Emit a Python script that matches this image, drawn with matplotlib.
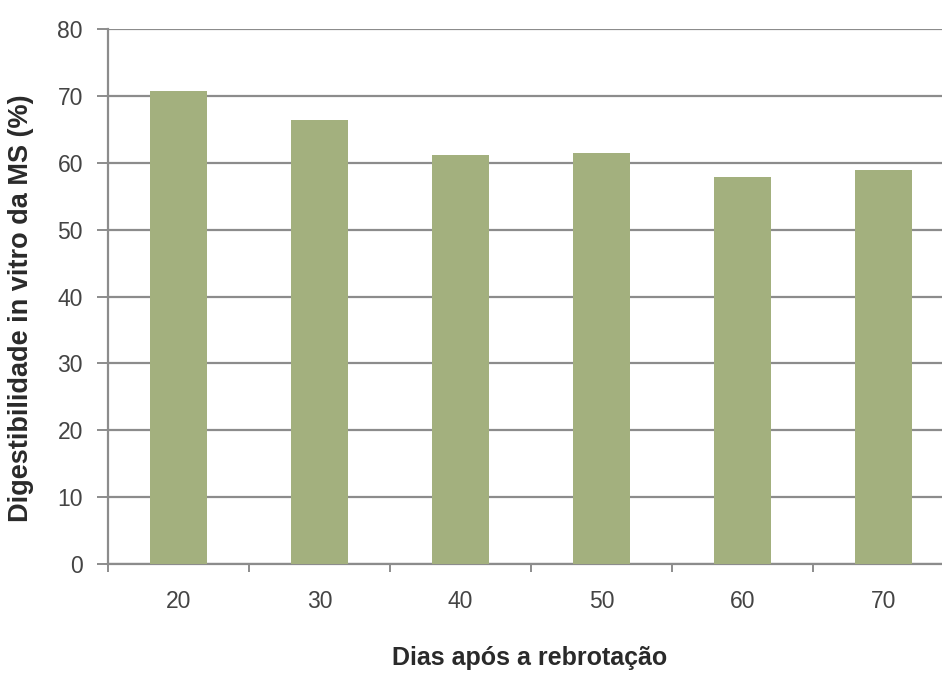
import matplotlib
matplotlib.use("Agg")
import matplotlib.pyplot as plt
import numpy as np

# Dias após a rebrotação e digestibilidade in vitro da MS (%)
dias = ["20", "30", "40", "50", "60", "70"]
digestibilidade = [70.7, 66.4, 61.2, 61.4, 57.8, 58.9]
y_ticks = [0, 10, 20, 30, 40, 50, 60, 70, 80]

plt.rcParams["font.family"] = ["Liberation Sans", "DejaVu Sans"]

fig = plt.figure(figsize=(9.42, 6.73), dpi=100)
W, H = 942, 673
left, right, top, bottom = 108, 954, 29, 564
ax = fig.add_axes([left / W, 1 - bottom / H, (right - left) / W, (bottom - top) / H])

x = np.arange(len(dias))
ax.bar(x, digestibilidade, width=0.4, color="#a3b07e", zorder=3)

ax.set_xlim(-0.5, len(dias) - 0.5)
ax.set_ylim(0, 80)
ax.set_yticks(y_ticks)
ax.set_yticklabels([str(v) for v in y_ticks])
ax.yaxis.grid(True, color="#8c8c8c", linewidth=1.6, zorder=0)

# category labels centred, tick marks at category boundaries
ax.set_xticks(x)
ax.set_xticklabels(dias)
ax.tick_params(axis="x", which="major", length=0, pad=19, labelsize=16.5, labelcolor="#444444")
ax.set_xticks(np.arange(-0.5, len(dias)), minor=True)
ax.tick_params(axis="x", which="minor", length=6, width=1.4, color="#8c8c8c", direction="out")
ax.tick_params(axis="y", length=8, width=1.4, color="#8c8c8c", pad=10, labelsize=16.5, labelcolor="#444444")

for side in ["top", "right"]:
    ax.spines[side].set_visible(False)
for side in ["left", "bottom"]:
    ax.spines[side].set_color("#8c8c8c")
    ax.spines[side].set_linewidth(1.6)

ax.set_xlabel("Dias após a rebrotação", fontsize=18, fontweight="bold", color="#2a2a2a")
ax.xaxis.set_label_coords((530 - left) / (right - left), -(646 - bottom) / (bottom - top))

ax.set_ylabel("Digestibilidade in vitro da MS (%)", fontsize=19.5, fontweight="bold", color="#2a2a2a")
ax.yaxis.label.set_verticalalignment("center")
ax.yaxis.set_label_coords((21 - left) / (right - left), (bottom - 308) / (bottom - top))

fig.savefig("out.png", dpi=100)
